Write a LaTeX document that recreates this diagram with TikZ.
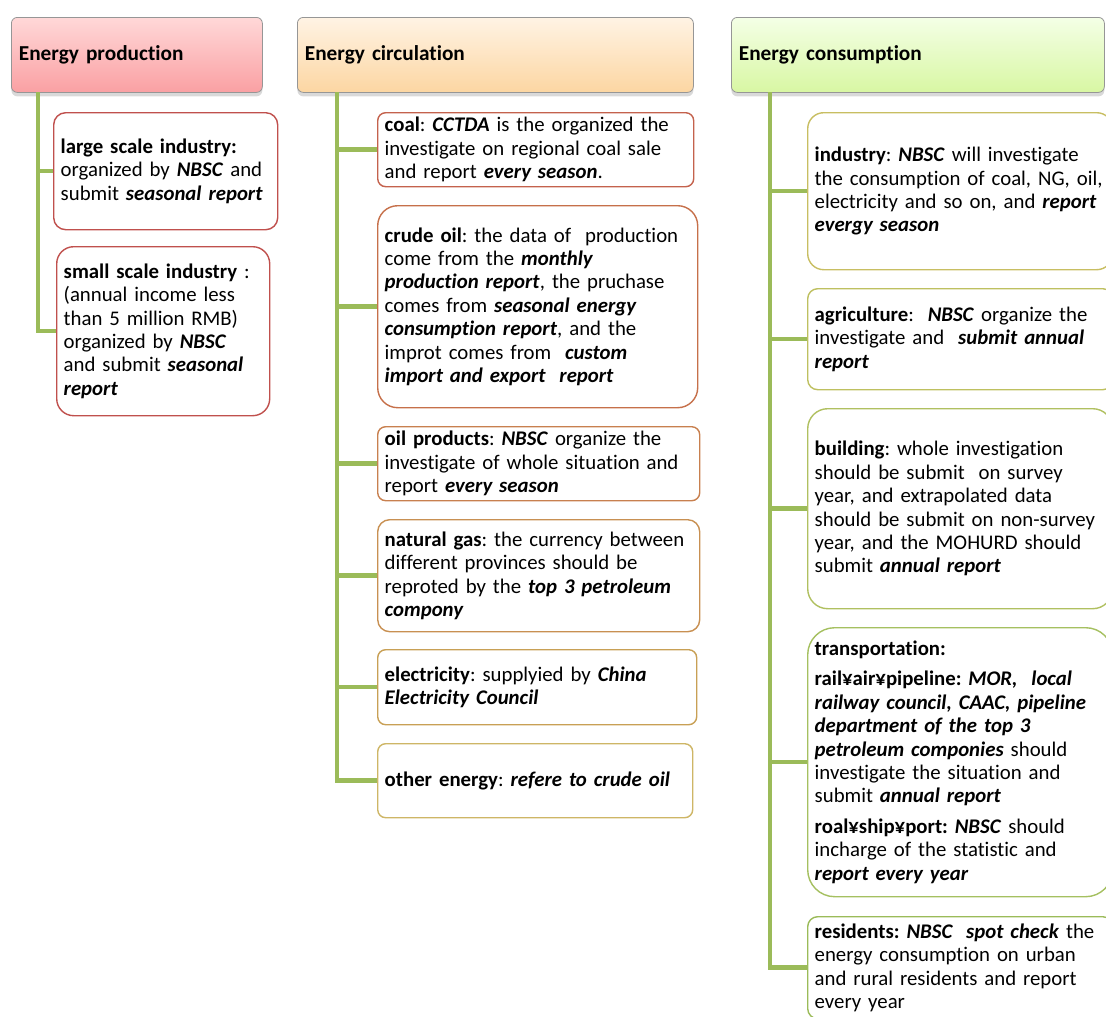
\documentclass[tikz,border=0pt]{standalone}
\usepackage{fontspec}
\setmainfont{Carlito}[Ligatures=NoCommon]
\usepackage{xcolor}
\usepackage{tikz}
\usetikzlibrary{positioning, shadows}
\definecolor{stemgreen}{RGB}{155,187,89}
\definecolor{headline}{RGB}{150,150,150}
\definecolor{prodtop}{RGB}{255,216,216}
\definecolor{prodbot}{RGB}{250,160,163}
\definecolor{circtop}{RGB}{255,243,228}
\definecolor{circbot}{RGB}{252,214,162}
\definecolor{constop}{RGB}{244,255,230}
\definecolor{consbot}{RGB}{216,247,163}
\definecolor{prodline}{RGB}{192,80,77}
\definecolor{circa}{RGB}{196,98,77}
\definecolor{circb}{RGB}{198,112,74}
\definecolor{circc}{RGB}{200,128,79}
\definecolor{circd}{RGB}{200,144,82}
\definecolor{circe}{RGB}{200,160,85}
\definecolor{circf}{RGB}{206,182,102}
\definecolor{consa}{RGB}{200,190,98}
\definecolor{consb}{RGB}{190,192,96}
\definecolor{consc}{RGB}{176,192,96}
\definecolor{consd}{RGB}{165,192,96}
\definecolor{conse}{RGB}{155,187,89}
\newcommand{\bemph}[1]{\textbf{\textit{#1}}}
\newcommand{\boxfont}{\fontsize{20.8}{23.4}\selectfont\frenchspacing}
\newcommand{\headfont}{\fontsize{21.3}{23.4}\selectfont\bfseries}
\tikzset{
  head/.style     ={rectangle, rounded corners=6pt, draw=headline, line width=0.8pt,
                    anchor=north west, inner xsep=7.5pt, minimum height=75pt, align=left,
                    font=\headfont,
                    drop shadow={shadow xshift=0pt, shadow yshift=-4pt, opacity=0.3}},
  prodhead/.style ={head, top color=prodtop, bottom color=prodbot},
  circhead/.style ={head, top color=circtop, bottom color=circbot},
  conshead/.style ={head, top color=constop, bottom color=consbot},
  item/.style     ={rectangle, fill=white, line width=1.4pt, anchor=north west,
                    inner xsep=7pt, inner ysep=2pt, align=left, font=\boxfont},
  stemline/.style ={draw=stemgreen, line width=4.5pt},
}

\begin{document}
\begin{tikzpicture}[x=1pt, y=-1pt]
\useasboundingbox (0,0) rectangle (1106,1017);
\clip (0,0) rectangle (1106,1017);

% headers
\node[prodhead, text width=236pt] (prodhdr) at (11,17) {Energy production};
\node[circhead, text width=381pt] (circhdr) at (297,17) {Energy circulation};
\node[conshead, text width=358pt] (conshdr) at (731,17) {Energy consumption};

\coordinate (prodstem) at (38,92);
\coordinate (circstem) at (337,92);
\coordinate (consstem) at (770,92);

% production
\node[item, draw=prodline, rounded corners=12pt, text width=210pt, minimum height=117pt] (large) at (53,112)
  {\textbf{large scale industry:}\\organized by \bemph{NBSC} and\\submit \bemph{seasonal report}};
\node[item, draw=prodline, rounded corners=17pt, text width=199pt, minimum height=169pt] (small) at (56,246)
  {\textbf{small scale industry} :\\(annual income less\\than 5 million RMB)\\organized by \bemph{NBSC}\\and submit \bemph{seasonal}\\\bemph{report}};

% circulation
\node[item, draw=circa, rounded corners=8pt, text width=302pt, minimum height=74pt] (coal) at (377,112)
  {\textbf{coal}: \bemph{CCTDA} is the organized the\\investigate on regional coal sale\\and report \bemph{every season}.};
\node[item, draw=circb, rounded corners=20pt, text width=306pt, minimum height=202pt] (crude) at (377,205)
  {\textbf{crude oil}: the data of~ production\\come from the \bemph{monthly}\\\bemph{production report}, the pruchase\\comes from \bemph{seasonal energy}\\\bemph{consumption report}, and the\\improt comes from~ \bemph{custom}\\\bemph{import and export~ report}};
\node[item, draw=circc, rounded corners=8pt, text width=308pt, minimum height=74pt] (oilprod) at (377,426)
  {\textbf{oil products}: \bemph{NBSC} organize the\\investigate of whole situation and\\report \bemph{every season}};
\node[item, draw=circd, rounded corners=12pt, text width=308pt, minimum height=112pt] (natgas) at (377,519)
  {\textbf{natural gas}: the currency between\\different provinces should be\\reproted by the \bemph{top 3 petroleum}\\\bemph{compony}};
\node[item, draw=circe, rounded corners=8pt, text width=305pt, minimum height=75pt] (elec) at (377,649)
  {\textbf{electricity}: supplyied by \bemph{China}\\\bemph{Electricity Council}};
\node[item, draw=circf, rounded corners=8pt, text width=301pt, minimum height=74pt] (other) at (377,743)
  {\textbf{other energy}: \bemph{refere to crude oil}};

% consumption
\node[item, draw=consa, rounded corners=16pt, text width=291pt, minimum height=157pt] (industry) at (807,112)
  {\textbf{industry}: \bemph{NBSC} will investigate\\the consumption of coal, NG, oil,\\electricity and so on, and \bemph{report}\\\bemph{evergy season}};
\node[item, draw=consb, rounded corners=10pt, text width=291pt, minimum height=101pt] (agri) at (807,288)
  {\textbf{agriculture}:~ \bemph{NBSC} organize the\\investigate and~ \bemph{submit annual}\\\bemph{report}};
\node[item, draw=consc, rounded corners=20pt, text width=291pt, minimum height=200pt] (building) at (807,408)
  {\textbf{building}: whole investigation\\should be submit~ on survey\\year, and extrapolated data\\should be submit on non-survey\\year, and the MOHURD should\\submit \bemph{annual report}};
\node[item, draw=consd, rounded corners=27pt, text width=291pt, minimum height=269pt] (transport) at (807,627)
  {\textbf{transportation:}\\[7pt]\textbf{rail¥air¥pipeline:} \bemph{MOR,~ local}\\\bemph{railway council, CAAC, pipeline}\\\bemph{department of the top 3}\\\bemph{petroleum componies} should\\investigate the situation and\\submit \bemph{annual report}\\[7pt]\textbf{roal¥ship¥port:} \bemph{NBSC} should\\incharge of the statistic and\\\bemph{report every year}};
\node[item, draw=conse, rounded corners=10pt, text width=291pt, minimum height=102pt] (residents) at (807,916)
  {\textbf{residents:} \bemph{NBSC~ spot check} the\\energy consumption on urban\\and rural residents and report\\every year};

% stems
\foreach \leaf in {large, small}
  \draw[stemline] (prodstem) |- (\leaf.west);
\foreach \leaf in {coal, crude, oilprod, natgas, elec, other}
  \draw[stemline] (circstem) |- (\leaf.west);
\foreach \leaf in {industry, agri, building, transport, residents}
  \draw[stemline] (consstem) |- (\leaf.west);
\end{tikzpicture}
\end{document}
